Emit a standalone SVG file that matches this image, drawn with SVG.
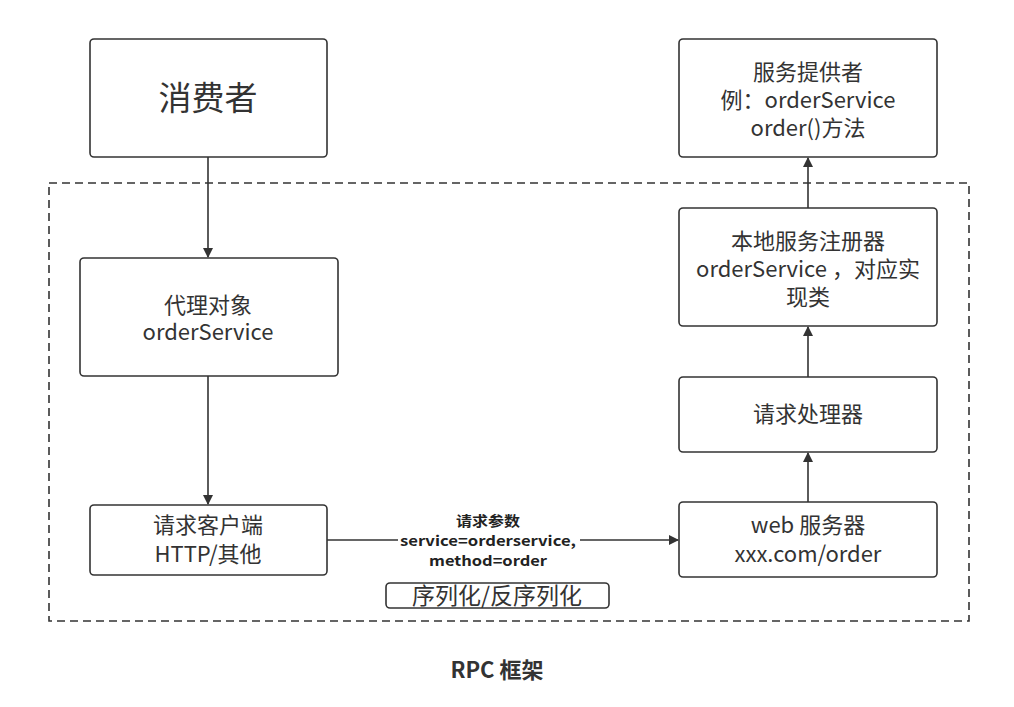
<svg xmlns="http://www.w3.org/2000/svg" width="1014" height="707" viewBox="0 0 1014 707">
<defs>
<marker id="ah" markerWidth="10" markerHeight="10" refX="9" refY="5" orient="auto" markerUnits="userSpaceOnUse" viewBox="0 0 10 10">
<path d="M0,0 L10,5 L0,10 Z" fill="#333"/>
</marker>
<style>
.box{fill:#fff;stroke:#333;stroke-width:1.6}
.t{font-family:"Noto Sans CJK SC","Noto Sans",sans-serif;fill:#333;text-anchor:middle;font-size:22px}
.e{stroke:#333;stroke-width:1.6;fill:none;marker-end:url(#ah)}
.lb{font-family:"Noto Sans CJK SC","Noto Sans",sans-serif;fill:#222;text-anchor:middle;font-weight:bold;font-size:14px}
</style>
</defs>
<rect width="1014" height="707" fill="#fff"/>
<g id="container">
<rect x="49" y="183" width="920" height="438" fill="none" stroke="#333" stroke-width="1.6" stroke-dasharray="8,5"/>
</g>
<g id="consumer"><rect class="box" x="90" y="39" width="237" height="118" rx="4"/><text class="t" x="208" y="110" style="font-size:33px">消费者</text></g>
<g id="proxy"><rect class="box" x="80" y="258" width="258" height="118" rx="4"/><text class="t" x="208" y="313">代理对象</text><text class="t" x="208" y="340">orderService</text></g>
<g id="client"><rect class="box" x="90" y="505" width="237" height="70" rx="4"/><text class="t" x="208" y="533">请求客户端</text><text class="t" x="208" y="562">HTTP/其他</text></g>
<g id="web"><rect class="box" x="679" y="502" width="258" height="75" rx="4"/><text class="t" x="808" y="533">web 服务器</text><text class="t" x="808" y="562">xxx.com/order</text></g>
<g id="handler"><rect class="box" x="679" y="377" width="258" height="75" rx="4"/><text class="t" x="808" y="422">请求处理器</text></g>
<g id="registry"><rect class="box" x="679" y="208" width="258" height="118" rx="4"/><text class="t" x="808" y="249">本地服务注册器</text><text class="t" x="808" y="277">orderService ，对应实</text><text class="t" x="808" y="305">现类</text></g>
<g id="provider"><rect class="box" x="679" y="39" width="258" height="118" rx="4"/><text class="t" x="808" y="80">服务提供者</text><text class="t" x="808" y="108">例：orderService</text><text class="t" x="808" y="136">order()方法</text></g>
<g id="connectors">
<line class="e" x1="208" y1="157" x2="208" y2="257"/>
<line class="e" x1="208" y1="376" x2="208" y2="504"/>
<line class="e" x1="327" y1="540" x2="678" y2="540"/>
<line class="e" x1="808" y1="502" x2="808" y2="453"/>
<line class="e" x1="808" y1="377" x2="808" y2="327"/>
<line class="e" x1="808" y1="208" x2="808" y2="158"/>
</g>
<g id="edge-label">
<rect x="398" y="531" width="182" height="20" fill="#fff"/>
<text class="lb" x="488" y="526" textLength="64" lengthAdjust="spacingAndGlyphs">请求参数</text>
<text class="lb" x="488" y="546" textLength="176" lengthAdjust="spacingAndGlyphs">service=orderservice,</text>
<text class="lb" x="488" y="566" textLength="118" lengthAdjust="spacingAndGlyphs">method=order</text>
</g>
<g id="serialize"><rect x="386" y="583" width="223" height="25" rx="4" fill="#fff" stroke="#333" stroke-width="1.6"/><text class="t" x="497" y="604" style="font-size:23px">序列化/反序列化</text></g>
<g id="title"><text class="t" x="497" y="678" style="font-size:22px;font-weight:bold">RPC 框架</text></g>
</svg>
